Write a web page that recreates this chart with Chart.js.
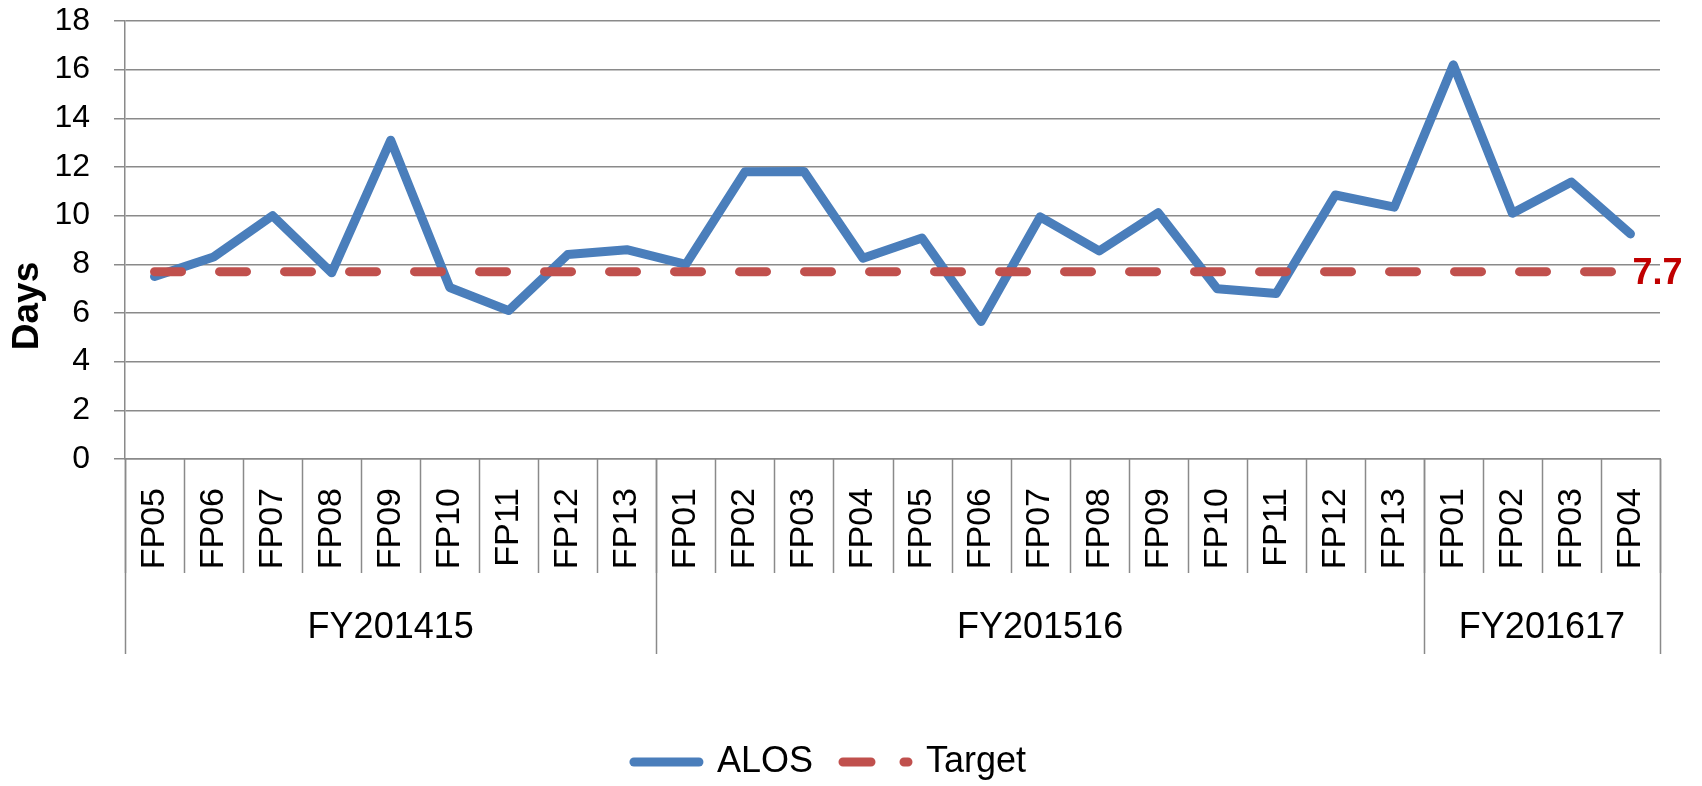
<!DOCTYPE html>
<html><head><meta charset="utf-8">
<script src="https://cdn.jsdelivr.net/npm/chart.js@4.4.1/dist/chart.umd.min.js"></script>
<style>html,body{margin:0;padding:0;background:#fff;overflow:hidden}#wrap{width:1702px;height:786px;position:relative}</style>
</head><body><div id="wrap"><canvas id="c" width="1702" height="786"></canvas></div>
<script>
const categories = ['FP05','FP06','FP07','FP08','FP09','FP10','FP11','FP12','FP13',
  'FP01','FP02','FP03','FP04','FP05','FP06','FP07','FP08','FP09','FP10','FP11','FP12','FP13',
  'FP01','FP02','FP03','FP04'];
const groupLabels = ['FY201415','FY201516','FY201617'];
const groupSizes = [9, 13, 4];
const alosValues = [7.5, 8.3, 10.0, 7.65, 13.1, 7.05, 6.1, 8.4, 8.6,
  8.0, 11.8, 11.82, 8.25, 9.08, 5.65, 9.95, 8.55, 10.12, 7.0, 6.8, 10.85, 10.35,
  16.2, 10.1, 11.38, 9.25];
const targetValues = [7.7, 7.7, 7.7, 7.7, 7.7, 7.7, 7.7, 7.7, 7.7,
  7.7, 7.7, 7.7, 7.7, 7.7, 7.7, 7.7, 7.7, 7.7, 7.7, 7.7, 7.7, 7.7,
  7.7, 7.7, 7.7, 7.7];
const yMin = 0, yMax = 18, yStep = 2;
const yTitle = 'Days';

const GRID = '#8a8a8a';
const FONT = "'Liberation Sans', Arial, sans-serif";

const groupAxisPlugin = {
  id: 'groupAxis',
  afterDraw(chart) {
    const ctx = chart.ctx, xs = chart.scales.x, y0 = chart.chartArea.bottom;
    const n = categories.length;
    const bound = i => i === 0 ? xs.left : (i === n ? xs.right : (xs.getPixelForTick(i - 1) + xs.getPixelForTick(i)) / 2);
    ctx.save();
    ctx.strokeStyle = GRID; ctx.lineWidth = 1.5;
    for (let i = 0; i <= n; i++) {
      const x = Math.round(bound(i)) + 0.5;
      ctx.beginPath(); ctx.moveTo(x, y0); ctx.lineTo(x, y0 + 114); ctx.stroke();
    }
    const bounds = [0]; let acc = 0;
    groupSizes.forEach(s => { acc += s; bounds.push(acc); });
    bounds.forEach(b => {
      const x = Math.round(bound(b)) + 0.5;
      ctx.beginPath(); ctx.moveTo(x, y0); ctx.lineTo(x, y0 + 195); ctx.stroke();
    });
    ctx.fillStyle = '#000'; ctx.font = '36px ' + FONT;
    ctx.textAlign = 'center'; ctx.textBaseline = 'middle';
    groupLabels.forEach((g, k) => {
      const xc = (bound(bounds[k]) + bound(bounds[k + 1])) / 2;
      ctx.fillText(g, xc, y0 + 169);
    });
    // y axis title
    ctx.save();
    ctx.translate(28, 306); ctx.rotate(-Math.PI / 2);
    ctx.font = 'bold 37px ' + FONT; ctx.fillText(yTitle, 0, 0);
    ctx.restore();
    // target value label at last point
    const meta = chart.getDatasetMeta(1);
    const last = meta.data[n - 1];
    ctx.font = 'bold 36px ' + FONT; ctx.fillStyle = '#C00000';
    ctx.textAlign = 'left';
    ctx.fillText(targetValues[n - 1].toFixed(1), last.x + 2, last.y + 2);
    ctx.restore();
  }
};

Chart.defaults.font.family = FONT;
Chart.defaults.color = '#000';

new Chart(document.getElementById('c'), {
  type: 'line',
  data: {
    labels: categories,
    datasets: [
      { label: 'ALOS', data: alosValues, borderColor: '#4A7EBB', backgroundColor: '#4A7EBB',
        borderWidth: 9, pointRadius: 0, tension: 0, borderJoinStyle: 'round', borderCapStyle: 'round', order: 2 },
      { label: 'Target', data: targetValues, borderColor: '#C0504D', backgroundColor: '#C0504D',
        borderWidth: 9, pointRadius: 0, tension: 0, borderDash: [27, 38], borderCapStyle: 'round', order: 1 }
    ]
  },
  options: {
    responsive: false, animation: false, devicePixelRatio: 1,
    layout: { padding: { top: 21, left: 0, right: 42, bottom: -4 } },
    plugins: {
      legend: { position: 'bottom',
        labels: {
          usePointStyle: true, pointStyle: 'line', pointStyleWidth: 65,
          font: { size: 36 }, color: '#000', padding: 30,
          sort: (a, b) => a.datasetIndex - b.datasetIndex,
          generateLabels: chart => Chart.defaults.plugins.legend.labels.generateLabels(chart).map(item => {
            const ds = chart.data.datasets[item.datasetIndex];
            item.lineDash = ds.borderDash ? [28, 33] : [];
            item.lineWidth = ds.borderWidth;
            item.lineCap = 'round';
            item.strokeStyle = ds.borderColor;
            item.fillStyle = ds.borderColor;
            return item;
          })
        } },
      tooltip: { enabled: false }
    },
    scales: {
      x: {
        offset: true,
        grid: { display: true, drawOnChartArea: false, drawTicks: false, offset: true },
        border: { display: true, color: GRID, width: 1.5 },
        ticks: { autoSkip: false, minRotation: 90, maxRotation: 90, padding: 29, font: { size: 34 }, color: '#000' },
        afterFit: s => { s.height = 255; }
      },
      y: {
        min: yMin, max: yMax,
        ticks: { stepSize: yStep, padding: 24, font: { size: 32 }, color: '#000' },
        grid: { color: GRID, lineWidth: 1.5, tickLength: 11 },
        border: { display: true, color: GRID, width: 1.5 },
        afterFit: s => { s.width = 125; s.paddingTop = 0; s.paddingBottom = 0; }
      }
    }
  },
  plugins: [groupAxisPlugin]
});
</script></body></html>
